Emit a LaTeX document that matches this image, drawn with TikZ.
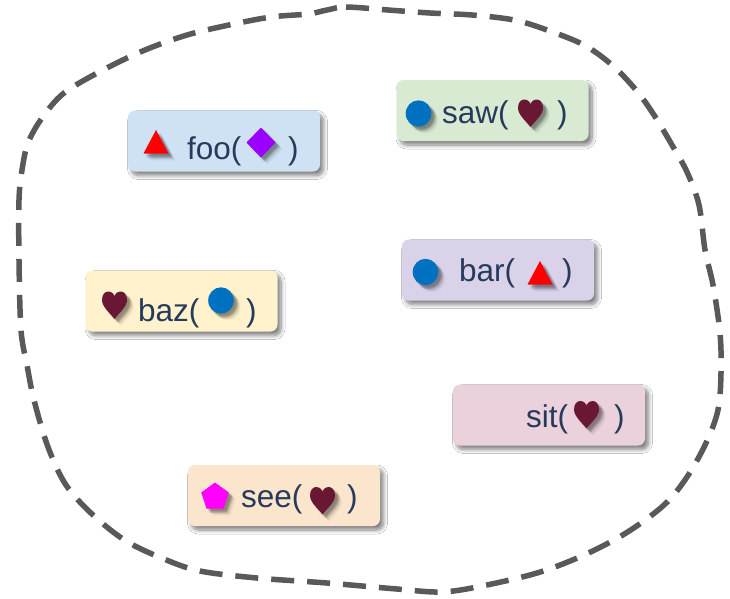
\documentclass[tikz,border=0pt]{standalone}
\usepackage{fontspec}
\setmainfont{Liberation Sans}
\usetikzlibrary{shadows.blur}
\definecolor{txt}{HTML}{263A5C}
\definecolor{cfoo}{HTML}{CFE2F3}
\definecolor{csaw}{HTML}{D9EAD3}
\definecolor{cbaz}{HTML}{FFF2CC}
\definecolor{cbar}{HTML}{D9D2E9}
\definecolor{csit}{HTML}{EAD1DC}
\definecolor{csee}{HTML}{FCE5CD}
\definecolor{sred}{HTML}{FF0000}
\definecolor{spurple}{HTML}{9900FF}
\definecolor{sblue}{HTML}{0070C0}
\definecolor{sheart}{HTML}{6A1733}
\definecolor{smag}{HTML}{FF00FF}
\definecolor{dashcol}{HTML}{595959}
\newcommand\mysymb[2]{%
  \foreach \dx/\dy/\op in {2/2/0.07, 3/3/0.09, 4/4/0.09, 5/5/0.08, 2.5/4.5/0.06, 4.5/2.5/0.06, 6/6/0.05, 7/7/0.03}
    {\path[fill=black, opacity=\op, shift={(\dx,\dy)}] #2;}
  \path[fill=#1] #2;}
\tikzset{
  box/.style={rectangle, rounded corners=7pt, minimum width=192pt, minimum height=61pt,
    inner sep=0pt, blur shadow={shadow xshift=3.5pt, shadow yshift=-4pt, shadow blur radius=4pt, shadow blur steps=8, shadow opacity=50}},
  lbl/.style={anchor=base west, inner sep=0pt, text=txt, font=\fontsize{31.5}{34}\selectfont},
  boundary/.style={draw=dashcol, line width=5.5pt, dash pattern=on 23pt off 13pt},
  tri/.pic={\mysymb{sred}{(-12.5,11.5)--(12.5,11.5)--(0,-12)--cycle}},
  diam/.pic={\mysymb{spurple}{(0,-15)--(14.5,0)--(0,15)--(-14.5,0)--cycle}},
  dot/.pic={\mysymb{sblue}{(0,0) ellipse [x radius=12.8, y radius=13.2]}},
  pent/.pic={\mysymb{smag}{(270:14.5)--(342:14.5)--(54:14.5)--(126:14.5)--(198:14.5)--cycle}},
  heart/.pic={\mysymb{sheart}{(0,14) .. controls (-4,8.5) and (-12.5,2) .. (-12.5,-5)
     .. controls (-12.5,-10.5) and (-9.5,-13.5) .. (-6.3,-13.5) .. controls (-3,-13.5) and (0,-11) .. (0,-8)
     .. controls (0,-11) and (3,-13.5) .. (6.3,-13.5) .. controls (9.5,-13.5) and (12.5,-10.5) .. (12.5,-5)
     .. controls (12.5,2) and (4,8.5) .. (0,14) -- cycle}},
}
\begin{document}
\begin{tikzpicture}[x=1pt,y=-1pt]
\useasboundingbox (0,0) rectangle (730,598);
\fill[white] (0,0) rectangle (730,598);

% dashed boundary
\draw[boundary] plot[smooth cycle, tension=0.55] coordinates {
 (327,10) (346,7) (388,10) (430,13) (472,15) (514,20) (547,30) (584,45) (612,65) (636,90)
 (654,115) (672,145) (687,172) (699,205) (705,250) (713,285) (720,333) (721,373) (718,410)
 (706,443) (687,477) (664,505) (626,533) (584,555) (537,573) (477,587) (440,592) (397,589)
 (327,583) (257,578) (200,571) (164,559) (126,541) (93,515) (66,485) (48,447) (34,400)
 (27,365) (21,330) (19,260) (19,200) (22,170) (28,143) (42,118) (64,93) (103,70) (145,50)
 (187,35) (229,25) (271,17) (308,14)};

% boxes
\node[box, fill=cfoo] (foo) at (224,141) {};
\node[box, fill=csaw] (saw) at (492.5,110.5) {};
\node[box, fill=cbaz] (baz) at (181.5,301) {};
\node[box, fill=cbar] (bar) at (498,270) {};
\node[box, fill=csit] (sit) at (549,415) {};
\node[box, fill=csee] (see) at (284,495.5) {};

% foo
\pic at (156,142) {tri};
\node[lbl] (foot) at (187,159) {foo(};
\pic at (261,142.5) {diam};
\node[lbl] (fooc) at (288,159) {)};
% saw
\pic at (418.5,113.5) {dot};
\node[lbl] (sawt) at (442,123) {saw(};
\pic at (530.5,113) {heart};
\node[lbl] (sawc) at (557,123) {)};
% baz
\pic at (114.5,305) {heart};
\node[lbl] (bazt) at (138,321) {baz(};
\pic at (221,300.5) {dot};
\node[lbl] (bazc) at (246,321) {)};
% bar
\pic at (425.5,272) {dot};
\node[lbl] (bart) at (459,281) {bar(};
\pic at (540,273) {tri};
\node[lbl] (barc) at (562,281) {)};
% sit
\node[lbl] (sitt) at (526,427) {sit(};
\pic at (586.5,414.5) {heart};
\node[lbl] (sitc) at (614,427) {)};
% see
\pic at (215,497) {pent};
\node[lbl] (seet) at (241,507) {see(};
\pic at (322.5,500.5) {heart};
\node[lbl] (seec) at (347,507) {)};
\end{tikzpicture}
\end{document}
